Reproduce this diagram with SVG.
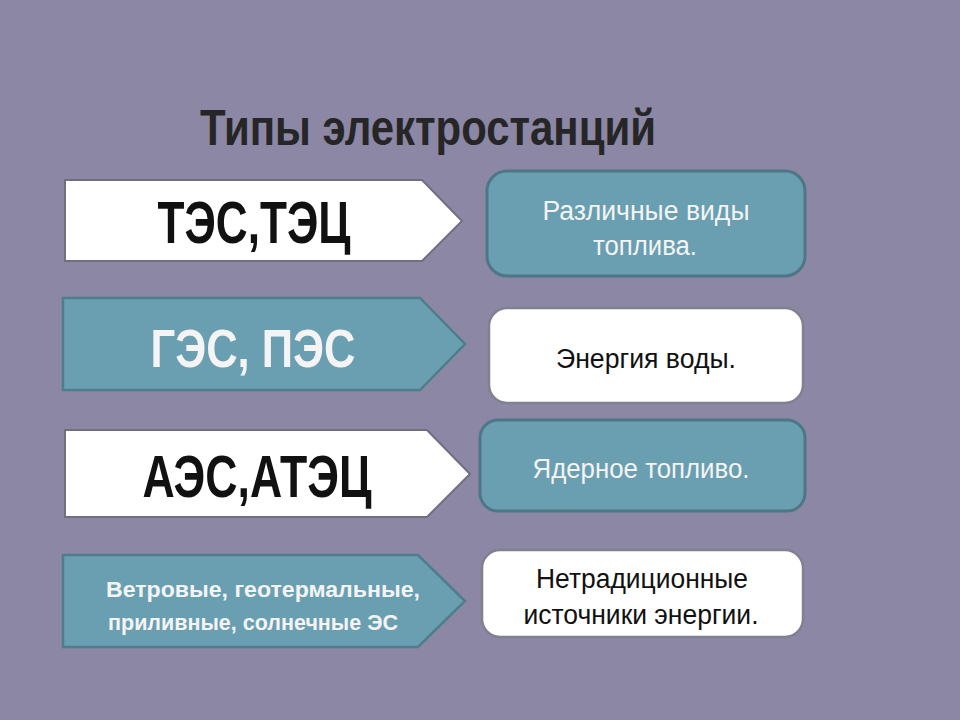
<svg xmlns="http://www.w3.org/2000/svg" width="960" height="720" viewBox="0 0 960 720">
<style>
.bg{fill:#8b87a5}
.aw{fill:#ffffff;stroke:#6f6f80;stroke-width:2}
.at{fill:#6a9fb1;stroke:#4e7e8e;stroke-width:2.5}
.bt{fill:#6a9fb1;stroke:#4d7787;stroke-width:3}
.bw{fill:#ffffff;stroke:#7f8090;stroke-width:2.5}
.title{font-family:"Liberation Sans",Arial,sans-serif;font-weight:bold;fill:#262626;font-size:50px}
.big{font-family:"Liberation Sans",Arial,sans-serif;font-weight:bold;text-anchor:middle}
.sm{font-family:"Liberation Sans",Arial,sans-serif;text-anchor:middle;font-size:27px}
.dark{fill:#111111}
.light{fill:#f4f4f4}
</style>
<rect class="bg" x="0" y="0" width="960" height="720"/>
<text class="title" x="200" y="145" textLength="456" lengthAdjust="spacingAndGlyphs">Типы электростанций</text>
<g id="connectors"></g>
<g id="n1">
<polygon class="aw" points="65,180 422,180 462,221 422,261 65,261"/>
<text class="big dark" x="254" y="243" font-size="60" textLength="193" lengthAdjust="spacingAndGlyphs">ТЭС,ТЭЦ</text>
</g>
<g id="n2">
<polygon class="at" points="63,298 420,298 465,344 420,390 63,390"/>
<text class="big light" x="253" y="367" font-size="54" textLength="205" lengthAdjust="spacingAndGlyphs">ГЭС, ПЭС</text>
</g>
<g id="n3">
<polygon class="aw" points="65,430 427,430 470,474 427,517 65,517"/>
<text class="big dark" x="257" y="497" font-size="60" textLength="229" lengthAdjust="spacingAndGlyphs">АЭС,АТЭЦ</text>
</g>
<g id="n4">
<polygon class="at" points="63,555 418,555 465,601 418,647 63,647"/>
<text class="big light" x="263" y="597" font-size="22" textLength="314" lengthAdjust="spacingAndGlyphs">Ветровые, геотермальные,</text>
<text class="big light" x="253" y="630" font-size="22" textLength="290" lengthAdjust="spacingAndGlyphs">приливные, солнечные ЭС</text>
</g>
<g id="r1">
<rect class="bt" x="487" y="171" width="318" height="105" rx="20"/>
<text class="sm light" x="646" y="220" textLength="207" lengthAdjust="spacingAndGlyphs">Различные виды</text>
<text class="sm light" x="645" y="255" textLength="104" lengthAdjust="spacingAndGlyphs">топлива.</text>
</g>
<g id="r2">
<rect class="bw" x="489" y="308" width="314" height="95" rx="18"/>
<text class="sm dark" x="646" y="368" textLength="180" lengthAdjust="spacingAndGlyphs">Энергия воды.</text>
</g>
<g id="r3">
<rect class="bt" x="480" y="420" width="325" height="91" rx="18"/>
<text class="sm light" x="641" y="478" textLength="217" lengthAdjust="spacingAndGlyphs">Ядерное топливо.</text>
</g>
<g id="r4">
<rect class="bw" x="482" y="550" width="321" height="87" rx="18"/>
<text class="sm dark" x="642" y="588" textLength="212" lengthAdjust="spacingAndGlyphs">Нетрадиционные</text>
<text class="sm dark" x="641" y="624" textLength="235" lengthAdjust="spacingAndGlyphs">источники энергии.</text>
</g>
</svg>
